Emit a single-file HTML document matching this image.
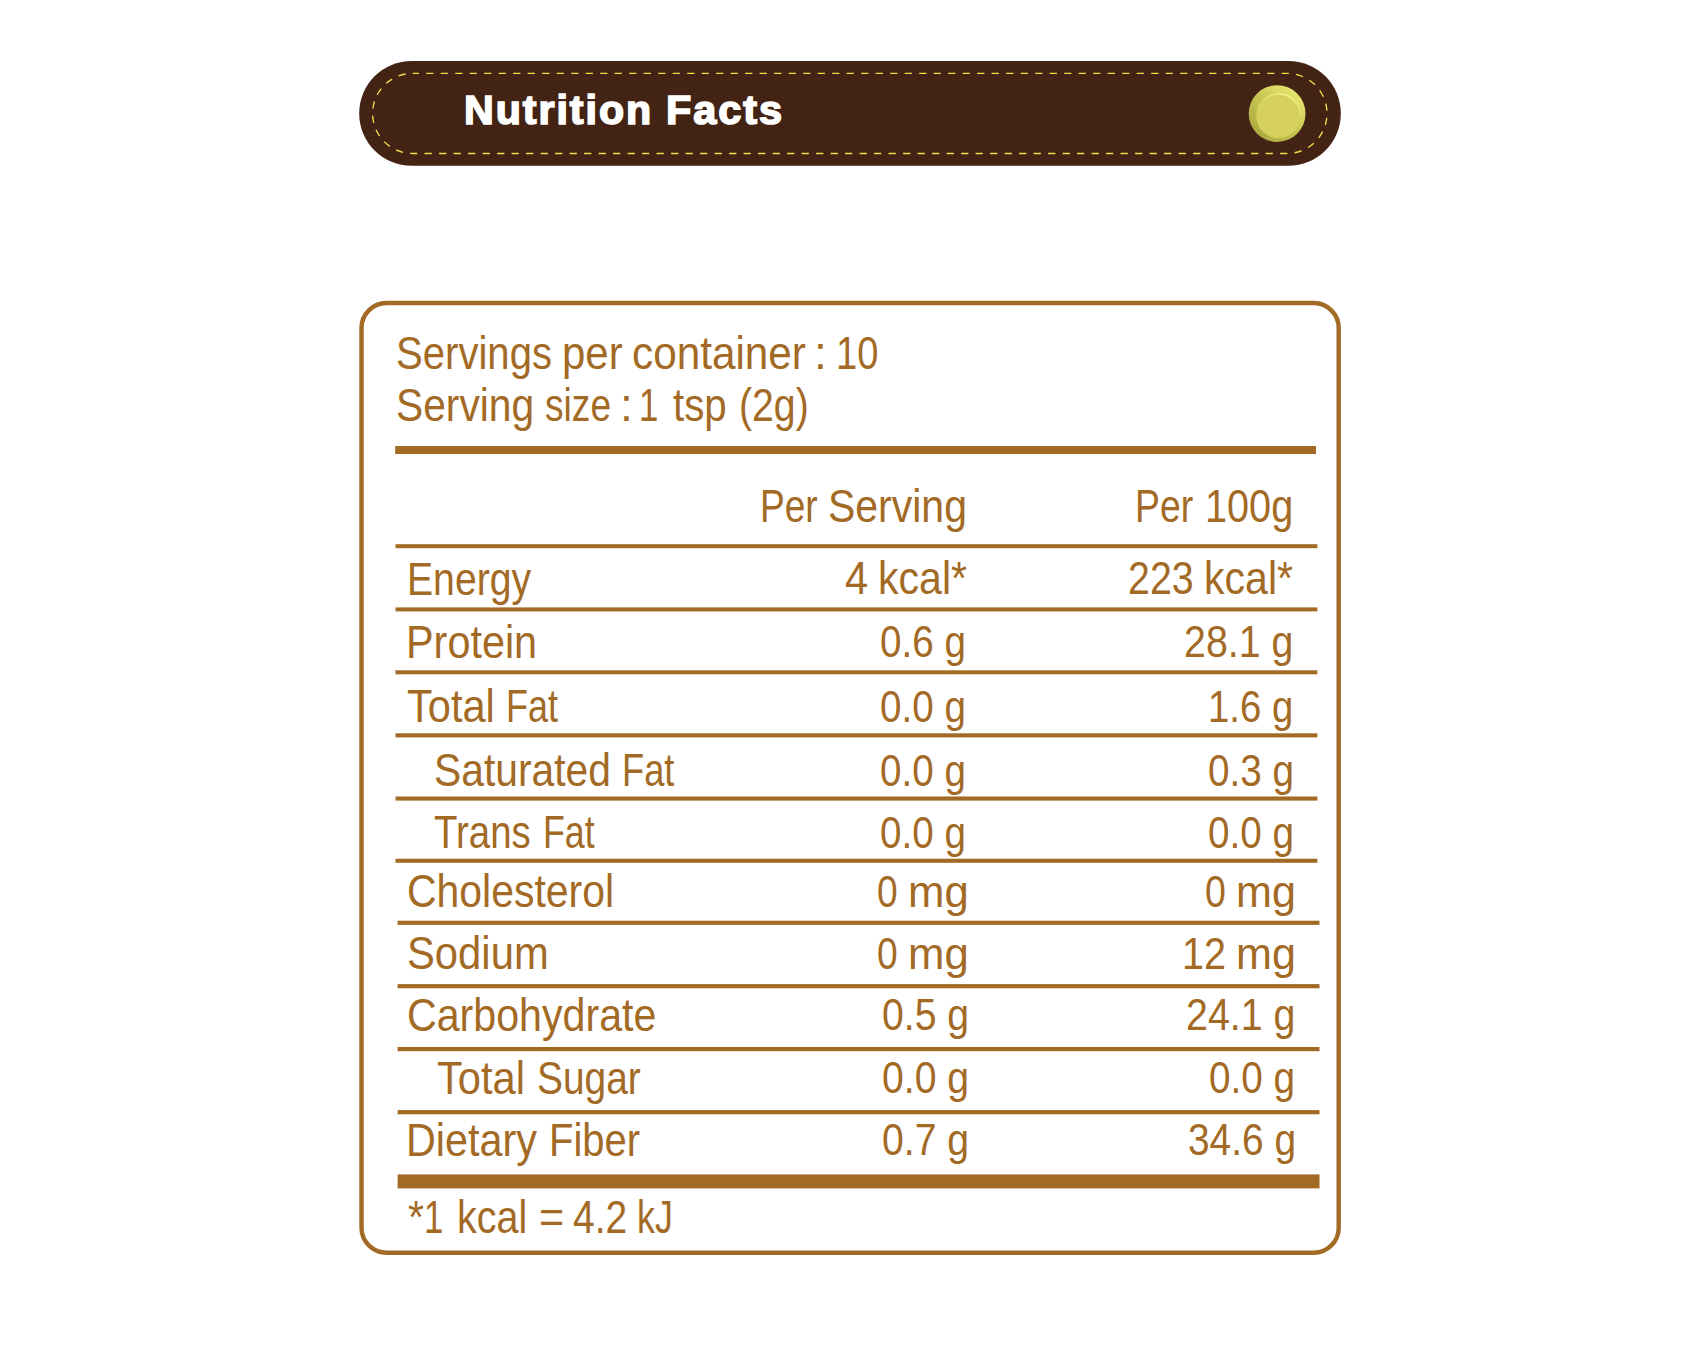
<!DOCTYPE html>
<html lang="en">
<head>
<meta charset="utf-8">
<title>Nutrition Facts</title>
<style>
html,body{margin:0;padding:0;background:#fff;}
body{width:1700px;height:1354px;position:relative;overflow:hidden;font-family:"Liberation Sans",sans-serif;}
svg.bg{position:absolute;left:0;top:0;}
.t{position:absolute;white-space:nowrap;line-height:1;color:#A26A25;transform-origin:0 0;letter-spacing:0;}
.t.b{color:#fff;font-weight:700;letter-spacing:1.9px;-webkit-text-stroke:1.6px #fff;}
</style>
</head>
<body>
<svg class="bg" width="1700" height="1354" viewBox="0 0 1700 1354">
<defs>
<linearGradient id="ring" x1="0.85" y1="0.1" x2="0.15" y2="0.9">
<stop offset="0" stop-color="#E6E670"/>
<stop offset="0.45" stop-color="#C9C854"/>
<stop offset="1" stop-color="#ABAA40"/>
</linearGradient>
<linearGradient id="hl" gradientUnits="userSpaceOnUse" x1="1258" y1="107" x2="1301" y2="114">
<stop offset="0" stop-color="#E6E678" stop-opacity="0.3"/>
<stop offset="0.6" stop-color="#F6F690" stop-opacity="1"/>
<stop offset="1" stop-color="#F0F088" stop-opacity="0.5"/>
</linearGradient>
</defs>
<rect x="359.2" y="61" width="981.6" height="104.8" rx="52.4" fill="#432314"/>
<rect x="372.6" y="73.4" width="954.4" height="80.1" rx="40.05" fill="none" stroke="#F2DD48" stroke-width="1.35" stroke-dasharray="7.3 7.2" stroke-dashoffset="1"/>
<circle cx="1277.1" cy="113.6" r="28.4" fill="url(#ring)"/>
<circle cx="1278.5" cy="115.9" r="22.2" fill="#D6D15F"/>
<path d="M 1258.2 107.0 A 22.2 22.2 0 0 1 1300.6 114.0" fill="none" stroke="url(#hl)" stroke-width="1.8" stroke-linecap="round"/>
<rect x="361.5" y="303" width="977.2" height="949.7" rx="25" fill="none" stroke="#A26A25" stroke-width="4.4"/>
<rect x="395.2" y="446.0" width="920.8" height="8.0" fill="#A26A25"/>
<rect x="395.5" y="544.2" width="921.9" height="4.0" fill="#A26A25"/>
<rect x="395.5" y="607.4" width="921.9" height="4.0" fill="#A26A25"/>
<rect x="395.5" y="670.3" width="921.9" height="4.0" fill="#A26A25"/>
<rect x="395.5" y="733.3" width="921.9" height="4.1" fill="#A26A25"/>
<rect x="395.5" y="796.5" width="921.9" height="4.1" fill="#A26A25"/>
<rect x="395.5" y="858.7" width="921.9" height="4.1" fill="#A26A25"/>
<rect x="397.6" y="920.7" width="921.9" height="4.2" fill="#A26A25"/>
<rect x="397.6" y="984.1" width="921.9" height="4.2" fill="#A26A25"/>
<rect x="397.6" y="1047.0" width="921.9" height="4.2" fill="#A26A25"/>
<rect x="397.6" y="1110.1" width="921.9" height="4.2" fill="#A26A25"/>
<rect x="397.6" y="1174.4" width="921.9" height="14.0" fill="#A26A25"/>
</svg>
<span class="t" style="left:395.89px;top:329.21px;font-size:47.0px;transform:scaleX(0.8530)">Servings</span>
<span class="t" style="left:562.42px;top:329.21px;font-size:47.0px;transform:scaleX(0.8930)">per</span>
<span class="t" style="left:631.80px;top:329.21px;font-size:47.0px;transform:scaleX(0.8993)">container</span>
<span class="t" style="left:814.13px;top:329.21px;font-size:47.0px;transform:scaleX(0.9800)">:</span>
<span class="t" style="left:835.57px;top:329.21px;font-size:47.0px;transform:scaleX(0.8102)">10</span>
<span class="t" style="left:395.87px;top:381.31px;font-size:47.0px;transform:scaleX(0.8672)">Serving</span>
<span class="t" style="left:545.21px;top:381.31px;font-size:47.0px;transform:scaleX(0.7907)">size</span>
<span class="t" style="left:620.03px;top:381.31px;font-size:47.0px;transform:scaleX(0.9800)">:</span>
<span class="t" style="left:639.36px;top:381.31px;font-size:47.0px;transform:scaleX(0.7400)">1</span>
<span class="t" style="left:673.20px;top:381.31px;font-size:47.0px;transform:scaleX(0.8577)">tsp</span>
<span class="t" style="left:739.33px;top:381.31px;font-size:47.0px;transform:scaleX(0.8337)">(2g)</span>
<span class="t" style="left:760.03px;top:481.81px;font-size:47.0px;transform:scaleX(0.7886)">Per</span>
<span class="t" style="left:828.06px;top:481.81px;font-size:47.0px;transform:scaleX(0.8717)">Serving</span>
<span class="t" style="left:1135.32px;top:481.81px;font-size:47.0px;transform:scaleX(0.7944)">Per</span>
<span class="t" style="left:1205.17px;top:481.81px;font-size:47.0px;transform:scaleX(0.8439)">100g</span>
<span class="t" style="left:407.00px;top:554.81px;font-size:47.0px;transform:scaleX(0.8332)">Energy</span>
<span class="t" style="left:844.62px;top:554.41px;font-size:47.0px;transform:scaleX(0.8833)">4</span>
<span class="t" style="left:877.68px;top:554.41px;font-size:47.0px;transform:scaleX(0.8734)">kcal*</span>
<span class="t" style="left:1128.13px;top:554.41px;font-size:47.0px;transform:scaleX(0.8369)">223</span>
<span class="t" style="left:1204.28px;top:554.41px;font-size:47.0px;transform:scaleX(0.8734)">kcal*</span>
<span class="t" style="left:406.36px;top:617.71px;font-size:47.0px;transform:scaleX(0.8805)">Protein</span>
<span class="t" style="left:880.14px;top:619.08px;font-size:44.8px;transform:scaleX(0.8623)">0.6 g</span>
<span class="t" style="left:1184.24px;top:619.08px;font-size:44.8px;transform:scaleX(0.8787)">28.1 g</span>
<span class="t" style="left:406.72px;top:682.21px;font-size:47.0px;transform:scaleX(0.8848)">Total</span>
<span class="t" style="left:506.11px;top:682.21px;font-size:47.0px;transform:scaleX(0.7649)">Fat</span>
<span class="t" style="left:880.14px;top:684.08px;font-size:44.8px;transform:scaleX(0.8623)">0.0 g</span>
<span class="t" style="left:1208.43px;top:684.08px;font-size:44.8px;transform:scaleX(0.8552)">1.6 g</span>
<span class="t" style="left:433.86px;top:745.81px;font-size:47.0px;transform:scaleX(0.8684)">Saturated</span>
<span class="t" style="left:621.69px;top:745.81px;font-size:47.0px;transform:scaleX(0.7710)">Fat</span>
<span class="t" style="left:880.14px;top:747.68px;font-size:44.8px;transform:scaleX(0.8623)">0.0 g</span>
<span class="t" style="left:1207.54px;top:747.68px;font-size:44.8px;transform:scaleX(0.8644)">0.3 g</span>
<span class="t" style="left:433.58px;top:808.01px;font-size:47.0px;transform:scaleX(0.8163)">Trans</span>
<span class="t" style="left:542.71px;top:808.01px;font-size:47.0px;transform:scaleX(0.7618)">Fat</span>
<span class="t" style="left:880.14px;top:810.08px;font-size:44.8px;transform:scaleX(0.8623)">0.0 g</span>
<span class="t" style="left:1207.54px;top:810.08px;font-size:44.8px;transform:scaleX(0.8644)">0.0 g</span>
<span class="t" style="left:406.66px;top:866.81px;font-size:47.0px;transform:scaleX(0.8710)">Cholesterol</span>
<span class="t" style="left:877.17px;top:868.78px;font-size:44.8px;transform:scaleX(0.8304)">0</span>
<span class="t" style="left:908.35px;top:868.78px;font-size:44.8px;transform:scaleX(0.9757)">mg</span>
<span class="t" style="left:1204.56px;top:868.78px;font-size:44.8px;transform:scaleX(0.8391)">0</span>
<span class="t" style="left:1236.08px;top:868.78px;font-size:44.8px;transform:scaleX(0.9620)">mg</span>
<span class="t" style="left:406.62px;top:928.71px;font-size:47.0px;transform:scaleX(0.8891)">Sodium</span>
<span class="t" style="left:877.17px;top:930.78px;font-size:44.8px;transform:scaleX(0.8304)">0</span>
<span class="t" style="left:908.35px;top:930.78px;font-size:44.8px;transform:scaleX(0.9757)">mg</span>
<span class="t" style="left:1182.35px;top:930.78px;font-size:44.8px;transform:scaleX(0.8839)">12</span>
<span class="t" style="left:1236.08px;top:930.78px;font-size:44.8px;transform:scaleX(0.9620)">mg</span>
<span class="t" style="left:406.65px;top:990.71px;font-size:47.0px;transform:scaleX(0.8756)">Carbohydrate</span>
<span class="t" style="left:881.73px;top:992.48px;font-size:44.8px;transform:scaleX(0.8747)">0.5 g</span>
<span class="t" style="left:1186.14px;top:992.48px;font-size:44.8px;transform:scaleX(0.8787)">24.1 g</span>
<span class="t" style="left:437.11px;top:1053.61px;font-size:47.0px;transform:scaleX(0.8869)">Total</span>
<span class="t" style="left:536.74px;top:1053.61px;font-size:47.0px;transform:scaleX(0.8276)">Sugar</span>
<span class="t" style="left:881.73px;top:1055.28px;font-size:44.8px;transform:scaleX(0.8747)">0.0 g</span>
<span class="t" style="left:1209.44px;top:1055.28px;font-size:44.8px;transform:scaleX(0.8644)">0.0 g</span>
<span class="t" style="left:406.36px;top:1115.71px;font-size:47.0px;transform:scaleX(0.8786)">Dietary</span>
<span class="t" style="left:549.05px;top:1115.71px;font-size:47.0px;transform:scaleX(0.8508)">Fiber</span>
<span class="t" style="left:881.73px;top:1117.48px;font-size:44.8px;transform:scaleX(0.8747)">0.7 g</span>
<span class="t" style="left:1187.53px;top:1117.48px;font-size:44.8px;transform:scaleX(0.8674)">34.6 g</span>
<span class="t" style="left:408.20px;top:1192.61px;font-size:47.0px;transform:scaleX(0.8722)">*</span>
<span class="t" style="left:423.96px;top:1192.61px;font-size:47.0px;transform:scaleX(0.7400)">1</span>
<span class="t" style="left:457.48px;top:1192.61px;font-size:47.0px;transform:scaleX(0.8395)">kcal</span>
<span class="t" style="left:538.57px;top:1192.61px;font-size:47.0px;transform:scaleX(0.9167)">=</span>
<span class="t" style="left:573.17px;top:1192.61px;font-size:47.0px;transform:scaleX(0.8296)">4.2</span>
<span class="t" style="left:636.52px;top:1192.61px;font-size:47.0px;transform:scaleX(0.7614)">kJ</span>
<span class="t b" style="left:464.37px;top:90.89px;font-size:40.3px;transform:scaleX(1.0224)">Nutrition</span>
<span class="t b" style="left:665.96px;top:90.89px;font-size:40.3px;transform:scaleX(1.0292)">Facts</span>
</body>
</html>
